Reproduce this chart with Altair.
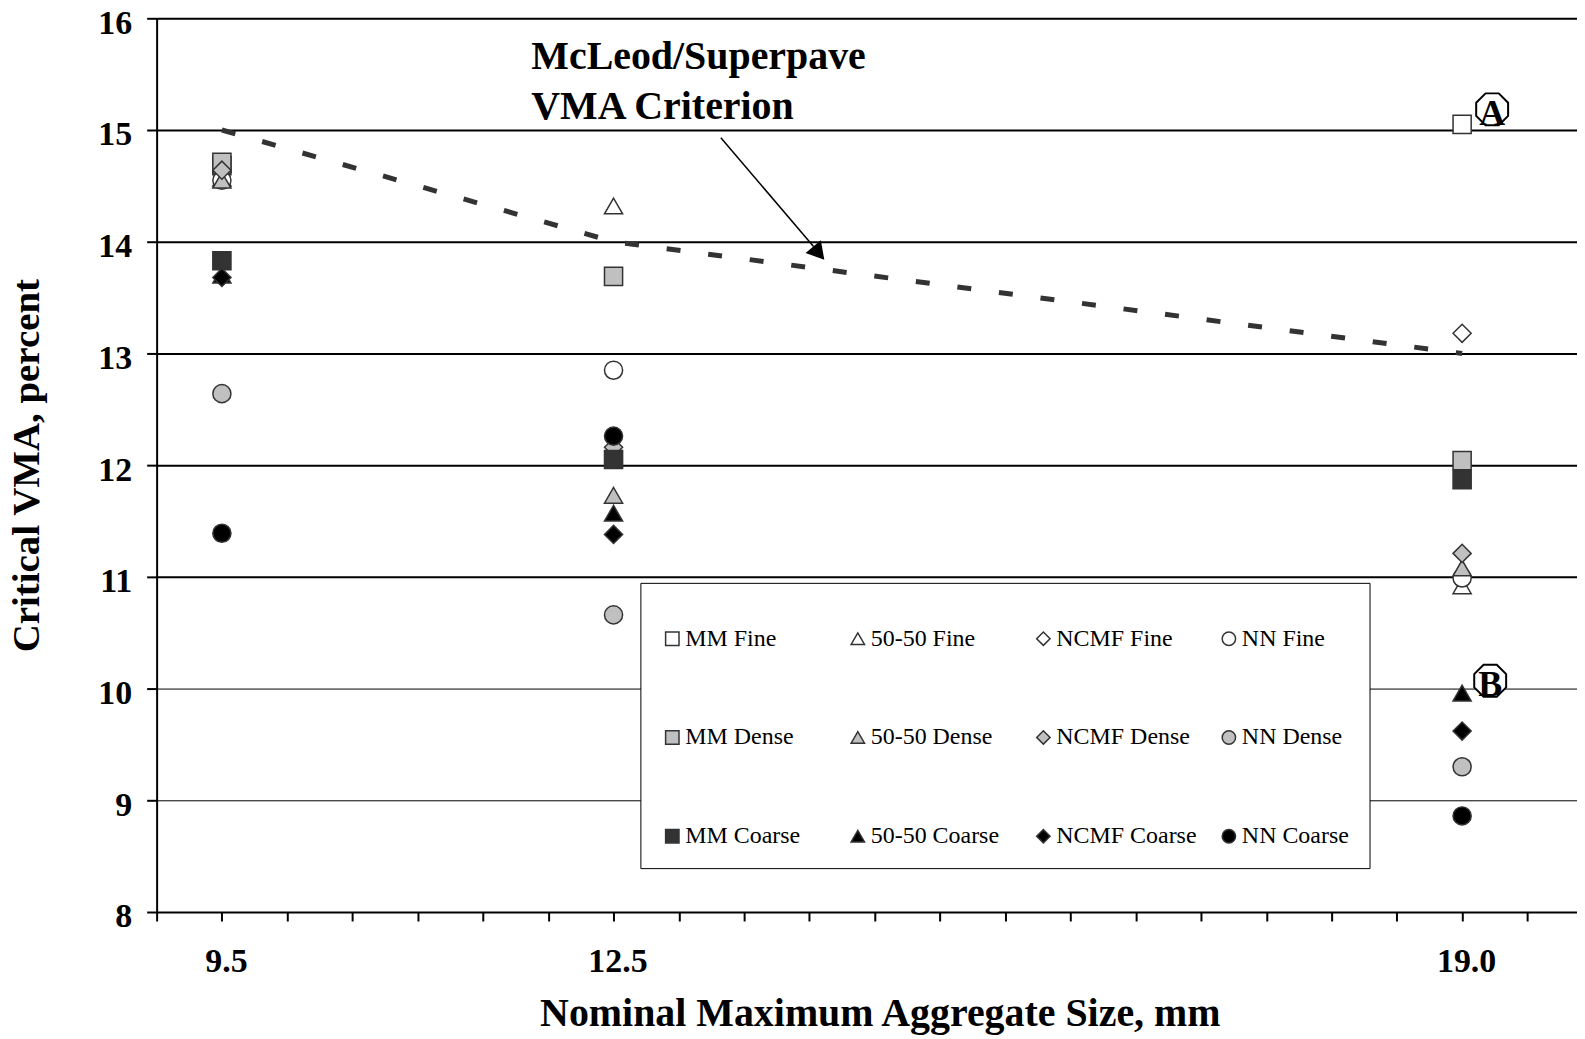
import altair as alt
import pandas as pd

FONT = "Liberation Serif, Times New Roman, serif"

# ---------------- data ----------------
sizes = [9.5, 12.5, 19.0]
series_names = ["MM Fine", "50-50 Fine", "NCMF Fine", "NN Fine",
                "MM Dense", "50-50 Dense", "NCMF Dense", "NN Dense",
                "MM Coarse", "50-50 Coarse", "NCMF Coarse", "NN Coarse"]

mm_fine = [14.68, None, 15.05]
s5050_fine = [14.57, 14.32, 10.92]
ncmf_fine = [14.62, None, 13.18]
nn_fine = [14.55, 12.85, 10.99]
mm_dense = [14.71, 13.69, 12.04]
s5050_dense = [14.55, 11.73, 11.08]
ncmf_dense = [14.64, 12.16, 11.21]
nn_dense = [12.64, 10.66, 9.30]
mm_coarse = [13.83, 12.05, 11.87]
s5050_coarse = [13.70, 11.57, 9.96]
ncmf_coarse = [13.68, 11.38, 9.62]
nn_coarse = [11.39, 12.26, 8.86]

series_values = [mm_fine, s5050_fine, ncmf_fine, nn_fine,
                 mm_dense, s5050_dense, ncmf_dense, nn_dense,
                 mm_coarse, s5050_coarse, ncmf_coarse, nn_coarse]

shapes = ["square", "triangle-up", "diamond", "circle"] * 3
fills = ["#ffffff"] * 4 + ["#c0c0c0"] * 4 + ["#333333", "#000000", "#000000", "#000000"]
strokes = ["#333333"] * 12

criterion_size = [9.5, 12.5, 19.0]
criterion_vma = [15.0, 14.0, 13.0]

y_ticks = [8, 9, 10, 11, 12, 13, 14, 15, 16]
x_ticks = [9.0, 9.5, 10.0, 10.5, 11.0, 11.5, 12.0, 12.5, 13.0, 13.5, 14.0, 14.5,
           15.0, 15.5, 16.0, 16.5, 17.0, 17.5, 18.0, 18.5, 19.0, 19.5]
x_labels = [9.5, 12.5, 19.0]

annot_lines = ["McLeod/Superpave", "VMA Criterion"]
annot_x = [11.87, 11.87]
annot_y = [15.55, 15.10]

arrow_x = [13.322]
arrow_y = [14.93]
arrow_x2 = [14.032]
arrow_y2 = [13.958]
head_x = [14.072]
head_y = [13.897]

tag_text = ["A", "B"]
tag_x = [19.23, 19.215]
tag_y = [15.185, 10.07]
tag_text_y = [15.045, 9.93]

# ---------------- tables ----------------
rows = []
for name, vals in zip(series_names, series_values):
    for s, v in zip(sizes, vals):
        if v is not None:
            rows.append({"size": s, "vma": v, "series": name})
df = pd.DataFrame(rows)

crit_df = pd.DataFrame({"size": criterion_size, "vma": criterion_vma})
annot_df = pd.DataFrame({"size": annot_x, "vma": annot_y, "text": annot_lines})
arrow_df = pd.DataFrame({"x": arrow_x, "y": arrow_y, "x2": arrow_x2, "y2": arrow_y2})
head_df = pd.DataFrame({"x": head_x, "y": head_y})
tag_df = pd.DataFrame({"x": tag_x, "y": tag_y, "ty": tag_text_y, "text": tag_text})

xscale = alt.Scale(domain=[9, 19.88], nice=False, zero=False)
yscale = alt.Scale(domain=[8, 16], nice=False, zero=False)

label_test = "indexof([" + ",".join(str(v) for v in x_labels) + "], datum.value) >= 0"

x_axis = alt.Axis(
    values=x_ticks,
    labelExpr=label_test + " ? format(datum.value, '.1f') : ''",
    labelFont=FONT, labelFontSize=34, labelFontWeight="bold", labelColor="black",
    labelBaseline="alphabetic", labelPadding=51, labelFlush=False, labelOverlap=False,
    labelOffset=4,
    tickSize=9, tickWidth=2, tickColor="black",
    domainColor="black", domainWidth=2, grid=False,
    title="Nominal Maximum Aggregate Size, mm",
    titleFont=FONT, titleFontSize=40, titleFontWeight="bold", titleColor="black",
    titleX=725, titleY=114, titleBaseline="alphabetic", titleAlign="center",
)

y_axis = alt.Axis(
    values=y_ticks, format="d",
    labelFont=FONT, labelFontSize=34, labelFontWeight="bold", labelColor="black",
    labelBaseline="alphabetic", labelOffset=15, labelPadding=15,
    tickSize=10, tickWidth=2, tickColor="black",
    domainColor="black", domainWidth=2,
    grid=True, gridColor="black", gridWidth={"expr": "datum.value >= 11 ? 2 : 1"},
    title="Critical VMA, percent",
    titleFont=FONT, titleFontSize=39, titleFontWeight="bold", titleColor="black",
    titleAngle=270, titleX=-118, titleY=448, titleBaseline="alphabetic", titleAlign="center",
)

legend = alt.Legend(
    title=" ", orient="none", legendX=485, legendY=566, columns=4,
    direction="horizontal",
    gridAlign="all", columnPadding=20, rowPadding=75,
    symbolSize=180, symbolStrokeWidth=1.5, symbolStrokeColor="#333333",
    labelFont=FONT, labelFontSize=24, labelColor="black", labelOffset=1, labelLimit=300,
    titleFont=FONT, titleFontSize=22, titlePadding=2,
    strokeColor="black", fillColor="white", padding=20,
)

crit = alt.Chart(crit_df).mark_line(
    color="#333333", strokeWidth=5, strokeDash=[14, 28], strokeCap="butt"
).encode(
    x=alt.X("size:Q", scale=xscale, axis=x_axis),
    y=alt.Y("vma:Q", scale=yscale, axis=y_axis),
)

points = alt.Chart(df).mark_point(
    filled=True, size=330, strokeWidth=1.5, opacity=1
).encode(
    x=alt.X("size:Q", scale=xscale),
    y=alt.Y("vma:Q", scale=yscale),
    shape=alt.Shape("series:N", scale=alt.Scale(domain=series_names, range=shapes),
                    sort=series_names, legend=legend),
    fill=alt.Fill("series:N", scale=alt.Scale(domain=series_names, range=fills),
                  sort=series_names, legend=legend),
    stroke=alt.Stroke("series:N", scale=alt.Scale(domain=series_names, range=strokes),
                      sort=series_names, legend=legend),
)

arrow = alt.Chart(arrow_df).mark_rule(color="black", strokeWidth=1.5).encode(
    x="x:Q", y="y:Q", x2="x2:Q", y2="y2:Q"
)

head = alt.Chart(head_df).mark_point(
    shape="triangle-up", size=400, filled=True, color="black", angle=140, opacity=1
).encode(x="x:Q", y="y:Q")

annot = alt.Chart(annot_df).mark_text(
    align="left", baseline="alphabetic", font=FONT, fontSize=40,
    fontWeight="bold", color="black"
).encode(x="size:Q", y="vma:Q", text="text:N")

octagon = "M-0.414,-1L0.414,-1L1,-0.414L1,0.414L0.414,1L-0.414,1L-1,0.414L-1,-0.414Z"
tags = alt.Chart(tag_df).mark_point(
    shape=octagon, size=1024, filled=True, fill="white", stroke="black",
    strokeWidth=2, opacity=1
).encode(x="x:Q", y="y:Q")

tag_letters = alt.Chart(tag_df).mark_text(
    align="center", baseline="alphabetic", font=FONT, fontSize=36,
    fontWeight="bold", color="black"
).encode(x="x:Q", y="ty:Q", text="text:N")

chart = alt.layer(crit, points, arrow, head, annot, tags, tag_letters).properties(
    width=1424, height=896,
    autosize=alt.AutoSizeParams(type="none"),
    padding={"left": 149, "top": 9, "right": 0, "bottom": 126},
).configure_view(stroke=None).configure_legend(
    strokeColor="black", strokeWidth=2, fillColor="white", padding=20
).configure(background="white")

chart.save("out.html", embed_options={"renderer": "svg", "actions": False})
